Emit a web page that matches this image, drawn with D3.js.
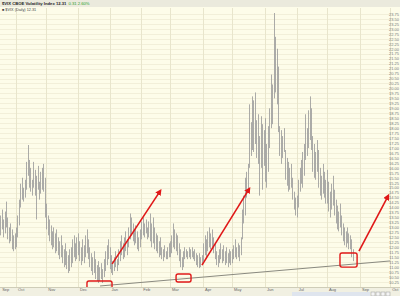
<!DOCTYPE html>
<html>
<head>
<meta charset="utf-8">
<script src="https://cdn.jsdelivr.net/npm/d3@7"></script>
<style>
  body { margin: 0; background: #fdfce9; }
  svg { display: block; font-family: "Liberation Sans", Arial, sans-serif; }
</style>
</head>
<body>
<svg id="chart" width="400" height="296"></svg>
<script>
// first trading day shown; bars are one per weekday from here
const startDate = new Date(2005, 8, 16);

// daily high / low of $VIX, Sep 2005 .. Aug 2006
const highs = [
  13.6, 13.9, 13.4, 13.8, 14.3, 13.5, 13.0, 13.2, 12.9, 12.6, 12.7,
  13.0, 13.6, 14.4, 15.2, 15.5, 15.0, 15.4, 16.3, 17.15, 16.4, 16.0, 15.4, 16.3, 15.9, 15.6, 16.1, 15.3, 15.8, 16.0, 16.2, 15.5,
  14.2, 13.6, 13.4, 13.1, 12.8, 13.0, 12.7, 12.9, 12.5, 12.3, 12.6, 12.1, 11.9, 12.2, 11.8, 11.6, 11.9, 12.0, 12.4, 12.6, 12.2, 12.5,
  12.7, 12.3, 12.0, 12.4, 12.1, 12.6, 12.9, 12.4, 12.0, 11.7, 11.5, 11.8, 11.4, 11.1, 11.3, 11.0, 11.2, 10.9, 11.4, 11.8, 12.1, 12.4,
  12.0, 11.6, 11.3, 11.5, 11.8, 11.4, 11.9, 12.3, 12.6, 12.2, 12.5, 12.8, 12.4, 13.0, 13.7, 13.5, 13.2, 12.9, 13.1, 12.8, 12.5, 12.9,
  13.3, 13.5, 13.2, 13.4, 13.0, 13.3, 13.7, 13.2, 13.5, 13.0, 12.7, 12.6, 12.3, 12.5, 12.0, 11.9, 12.1, 11.8, 12.0, 12.2,
  12.3, 12.6, 13.2, 12.9, 12.7, 12.6, 12.2, 11.9, 11.5, 11.8, 12.0, 11.9, 11.8, 12.0, 11.9, 12.0, 11.8, 11.9, 11.7, 11.6, 11.7, 11.5, 11.6,
  12.2, 12.6, 12.4, 12.8, 13.0, 12.7, 12.9, 12.5, 12.2, 11.8, 11.6, 11.9, 12.2, 11.9, 12.1, 11.8, 12.0, 11.7, 11.9, 11.8,
  11.9, 12.1, 12.4, 12.0, 12.2, 12.1, 12.5, 13.9, 14.6, 15.5, 15.8, 16.2, 19.2, 18.3, 19.6, 19.4, 19.8, 18.4, 18.7, 17.6, 18.6, 18.2, 17.9,
  18.5, 17.2, 18.1, 19.0, 20.7, 20.2, 23.8, 22.6, 22.0, 21.1, 18.1, 17.9, 17.6, 18.0, 16.9, 16.5, 16.3, 16.0, 16.2, 15.5, 14.8, 14.5,
  14.6, 15.4, 16.0, 16.4, 16.8, 17.2, 18.7, 18.0, 18.9, 19.6, 19.0, 17.6, 17.2, 16.8, 17.4, 16.9, 16.0, 15.6, 16.2, 15.8, 15.4,
  15.9, 15.3, 14.8, 15.2, 15.6, 14.9, 14.4, 14.1, 13.8, 14.2, 13.6, 13.2, 13.0, 12.8, 13.0, 12.7, 12.6, 12.4, 11.9
];
const lows = [
  12.6, 12.9, 12.5, 12.7, 13.0, 12.4, 12.2, 12.3, 11.9, 11.8, 11.9,
  12.0, 12.5, 13.1, 14.0, 14.4, 14.3, 14.5, 14.9, 15.6, 15.0, 14.8, 14.6, 15.0, 14.6, 13.4, 14.9, 14.4, 14.7, 14.9, 14.8, 13.5,
  12.9, 12.6, 12.3, 12.1, 11.9, 12.0, 11.7, 11.8, 11.6, 11.4, 11.5, 11.2, 11.0, 11.1, 10.9, 10.7, 10.8, 11.0, 11.2, 11.5, 11.3, 11.4,
  11.6, 11.3, 11.1, 11.3, 11.2, 11.5, 11.7, 11.4, 11.0, 10.8, 10.6, 10.7, 10.4, 10.3, 10.2, 10.3, 10.4, 10.2, 10.5, 10.8, 11.1, 11.4,
  10.9, 10.7, 10.6, 10.8, 11.0, 10.8, 11.1, 11.3, 11.6, 11.4, 11.5, 11.8, 11.6, 12.0, 12.4, 12.6, 12.3, 12.1, 12.2, 11.9, 11.8, 12.0,
  12.4, 12.6, 12.5, 12.7, 12.4, 12.5, 12.3, 12.0, 12.2, 11.9, 11.8, 11.7, 11.5, 11.6, 11.4, 11.3, 11.5, 11.4, 11.4, 11.5,
  11.5, 11.7, 12.0, 11.9, 11.8, 11.6, 11.3, 11.0, 10.85, 11.0, 11.4, 11.5, 11.4, 11.5, 11.4, 11.5, 11.4, 11.3, 11.1, 11.0, 10.95, 11.0, 11.1,
  11.3, 11.6, 11.5, 11.8, 12.0, 11.9, 12.0, 11.7, 11.4, 11.1, 11.0, 11.2, 11.4, 11.2, 11.3, 11.1, 11.2, 11.0, 11.2, 11.1,
  11.2, 11.4, 11.5, 11.4, 11.5, 11.3, 11.6, 12.4, 13.2, 13.6, 14.5, 14.8, 16.0, 16.6, 16.9, 16.8, 17.2, 16.5, 16.2, 14.6, 16.0, 14.9, 16.1,
  15.3, 15.0, 15.8, 17.0, 18.0, 18.2, 19.5, 19.8, 19.2, 17.8, 16.6, 16.2, 16.5, 16.8, 15.4, 15.1, 14.8, 14.9, 15.0, 14.4, 13.9, 13.6,
  13.5, 14.0, 14.8, 15.2, 15.0, 15.6, 16.4, 16.6, 17.0, 17.4, 16.9, 15.8, 15.5, 15.4, 15.8, 15.0, 14.6, 14.4, 14.7, 14.5, 14.2,
  14.2, 13.8, 13.5, 13.9, 14.1, 13.6, 13.2, 12.9, 12.8, 13.0, 12.6, 12.3, 12.1, 12.0, 12.2, 11.9, 11.9, 11.5, 11.3
];

const monthNames = ["Jan", "Feb", "Mar", "Apr", "May", "Jun", "Jul", "Aug", "Sep", "Oct", "Nov", "Dec"];
const yTicks = d3.range(10.25, 23.76, 0.25);

// hand-drawn annotations, in [trading day index, value]
const trendLine = [[69.4, 10.05], [270.9, 11.31]];
const arrows = [
  [[77.8, 11.16], [111.1, 14.83]],
  [[140.2, 11.10], [172.9, 14.93]],
  [[249.3, 11.81], [269.5, 14.58]]
];
const boxes = [
  [[60.3, 10.30], [77.7, 9.90]],
  [[122.2, 10.65], [132.6, 10.25]],
  [[236.1, 11.71], [248.0, 11.00]]
];

const W = 400, H = 296;
const plotRight = 390, plotBottom = 287;
const nSlots = 272;

// weekday calendar for the x axis
const days = [];
for (let d = new Date(startDate); days.length < nSlots; d.setDate(d.getDate() + 1)) {
  if (d.getDay() % 6 !== 0) days.push(new Date(d));
}
const monthStarts = days.map((d, i) => i).filter(i => i === 0 || days[i].getMonth() !== days[i - 1].getMonth());

const x = d3.scaleLinear().domain([0, nSlots - 1]).range([0.2, 390.2]);
const y = d3.scaleLinear().domain([10.25, 23.75]).range([282, 14]);

const svg = d3.select('#chart');

svg.append('rect').attr('width', W).attr('height', H).attr('fill', '#fdfce9');

// horizontal grid
svg.append('g').selectAll('line').data(yTicks).join('line')
  .attr('x1', 0).attr('x2', plotRight)
  .attr('y1', d => Math.round(y(d)) + 0.5).attr('y2', d => Math.round(y(d)) + 0.5)
  .attr('stroke', '#f2efd9').attr('stroke-width', 1);

// vertical month grid
svg.append('g').selectAll('line').data(monthStarts.filter(i => i > 0)).join('line')
  .attr('x1', d => Math.round(x(d)) + 0.5).attr('x2', d => Math.round(x(d)) + 0.5)
  .attr('y1', 8).attr('y2', plotBottom)
  .attr('stroke', '#e8e5cc').attr('stroke-width', 1);

// header band
svg.append('rect').attr('width', W).attr('height', 7).attr('fill', '#ebeadd');
const title = svg.append('text').attr('x', 2).attr('y', 5).attr('font-size', 4.2);
title.append('tspan').attr('fill', '#222').attr('font-weight', 'bold').text('$VIX CBOE Volatility Index  12.31');
title.append('tspan').attr('fill', '#2a9d2a').attr('dx', 2).text('0.31  2.60%');
svg.append('text').attr('x', 2).attr('y', 10.5).attr('font-size', 3.8).attr('fill', '#444')
  .text('\u25A0 $VIX (Daily) 12.31');

// price bars
svg.append('g').selectAll('line').data(highs).join('line')
  .attr('x1', (d, i) => Math.round(x(i)) + 0.5).attr('x2', (d, i) => Math.round(x(i)) + 0.5)
  .attr('y1', d => y(d)).attr('y2', (d, i) => y(lows[i]))
  .attr('stroke', '#a2a2a0').attr('stroke-width', 0.9);

// trend line
svg.append('line')
  .attr('x1', x(trendLine[0][0])).attr('y1', y(trendLine[0][1]))
  .attr('x2', x(trendLine[1][0])).attr('y2', y(trendLine[1][1]))
  .attr('stroke', '#8a8a80').attr('stroke-width', 1);

// red annotations
svg.append('defs').append('marker')
  .attr('id', 'head').attr('viewBox', '0 0 10 10').attr('refX', 6).attr('refY', 5)
  .attr('markerWidth', 4).attr('markerHeight', 4).attr('orient', 'auto')
  .append('path').attr('d', 'M0,0 L10,5 L0,10 z').attr('fill', '#e01818');

svg.append('g').selectAll('line').data(arrows).join('line')
  .attr('x1', d => x(d[0][0])).attr('y1', d => y(d[0][1]))
  .attr('x2', d => x(d[1][0])).attr('y2', d => y(d[1][1]))
  .attr('stroke', '#e01818').attr('stroke-width', 1.6)
  .attr('marker-end', 'url(#head)');

svg.append('g').selectAll('rect').data(boxes).join('rect')
  .attr('x', d => x(d[0][0])).attr('y', d => y(d[0][1]))
  .attr('width', d => x(d[1][0]) - x(d[0][0])).attr('height', d => y(d[1][1]) - y(d[0][1]))
  .attr('rx', 2).attr('fill', 'none')
  .attr('stroke', '#e01818').attr('stroke-width', 1.4);

// right value axis
const yAxis = svg.append('g').attr('transform', `translate(${W - 1},0)`)
  .call(d3.axisLeft(y).tickValues(yTicks).tickSize(0).tickPadding(0).tickFormat(d3.format('.2f')));
yAxis.select('.domain').remove();
yAxis.selectAll('text').attr('font-size', 4).attr('fill', '#777').attr('font-family', '"Liberation Sans", Arial, sans-serif');

// bottom strip + month axis
svg.append('rect').attr('x', 0).attr('y', plotBottom).attr('width', W).attr('height', H - plotBottom).attr('fill', '#f1f0e2');
svg.append('line').attr('x1', 0).attr('x2', W).attr('y1', plotBottom + 0.5).attr('y2', plotBottom + 0.5)
  .attr('stroke', '#cfcdb8');

const xAxis = svg.append('g').attr('transform', `translate(0,${plotBottom})`)
  .call(d3.axisBottom(x).tickValues(monthStarts).tickSize(0).tickPadding(0)
    .tickFormat(i => monthNames[days[i].getMonth()]));
xAxis.select('.domain').remove();
xAxis.selectAll('text').attr('text-anchor', 'start').attr('dx', 1.5).attr('dy', 4.2)
  .attr('font-size', 4).attr('fill', '#666').attr('font-family', '"Liberation Sans", Arial, sans-serif');

// scroll bar at the bottom right
svg.append('rect').attr('x', 292).attr('y', 292).attr('width', 78).attr('height', 4).attr('fill', '#dfe5ee');
svg.append('g').selectAll('rect').data([0, 1, 2, 3]).join('rect')
  .attr('x', d => 371 + d * 5).attr('y', 292).attr('width', 4).attr('height', 4)
  .attr('fill', '#f4f4f4').attr('stroke', '#9a9a9a').attr('stroke-width', 0.5);
</script>
</body>
</html>
